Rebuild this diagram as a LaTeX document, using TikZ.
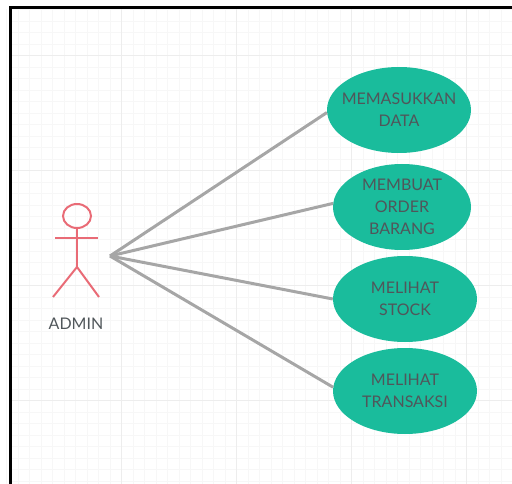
\documentclass[tikz,border=0pt]{standalone}
\usepackage{fontspec}
\setmainfont{Lato}
\usetikzlibrary{shapes.geometric}
\definecolor{usecase}{HTML}{1ABC9C}
\definecolor{actor}{HTML}{E96B76}
\definecolor{label}{HTML}{50565A}
\definecolor{link}{HTML}{A6A6A6}
\tikzset{
    usecase/.style={ellipse, fill=usecase, text=label, inner ysep=0pt, inner xsep=-8pt, minimum height=86pt, align=center, font=\fontsize{16}{22}\selectfont},
    link/.style={draw=link, line width=3pt},
    stick/.style={draw=actor, line width=2pt}
}
\begin{document}
\begin{tikzpicture}[x=1pt, y=-1pt]
    \useasboundingbox (0,0) rectangle (512,484);
    \foreach \i in {0,...,43} {
        \draw[black!3, line width=.8pt] (6.5+11.5*\i,9) -- (6.5+11.5*\i,484);
    }
    \foreach \i in {0,...,41} {
        \draw[black!3, line width=.8pt] (12,9.5+11.5*\i) -- (512,9.5+11.5*\i);
    }
    \foreach \i in {1,...,4} {
        \draw[black!7, line width=.8pt] (6+115*\i,9) -- (6+115*\i,484);
    }
    \foreach \i in {0,...,3} {
        \draw[black!7, line width=.8pt] (12,55.5+115*\i) -- (512,55.5+115*\i);
    }
    \draw[black, line width=3.2pt] (10.5,484) -- (10.5,7.5) -- (512,7.5);

    \node[usecase, minimum width=144pt] (data) at (399,110) {MEMASUKKAN\\DATA};
    \node[usecase, minimum width=138pt] (order) at (402,207) {MEMBUAT\\ORDER\\BARANG};
    \node[usecase, minimum width=144pt] (stock) at (405,299) {MELIHAT\\STOCK};
    \node[usecase, minimum width=144pt] (transaksi) at (405,391) {MELIHAT\\TRANSAKSI};

    \node[ellipse, stick, inner sep=0pt, minimum width=28pt, minimum height=24pt] (head) at (77,216) {};
    \coordinate (hip) at (77,267);
    \coordinate (arml) at (55,238);
    \coordinate (armr) at (98,238);
    \coordinate (footl) at (53,297);
    \coordinate (footr) at (99,297);
    \draw[stick] (head.south) -- (hip);
    \draw[stick] (arml) -- (armr);
    \draw[stick] (footl) -- (hip) -- (footr);
    \node[text=label, font=\fontsize{16}{22}\selectfont] (admin) at (76,324) {ADMIN};

    \coordinate (hub) at (110,256);
    \draw[link] (hub) -- (data.182);
    \draw[link] (hub) -- (order.177);
    \draw[link] (hub) -- (stock.west);
    \draw[link] (hub) -- (transaksi.177);
\end{tikzpicture}
\end{document}
